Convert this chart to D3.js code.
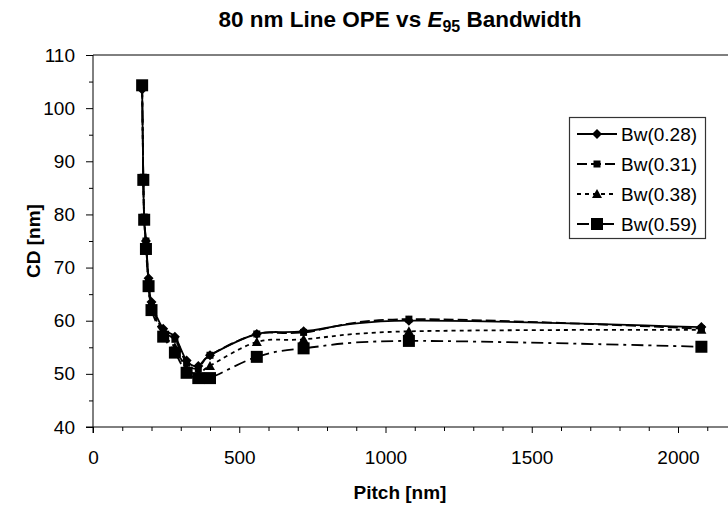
<!DOCTYPE html>
<html><head><meta charset="utf-8">
<script src="https://cdn.jsdelivr.net/npm/d3@7"></script>
<style>body{margin:0;background:#fff}svg{display:block;font-family:"Liberation Sans",Arial,sans-serif}</style>
</head><body><svg id="c" width="728" height="507"></svg>
<script>
const pitch = [168, 172, 175, 181, 190, 200, 240, 280, 320, 360, 400, 560, 720, 1080, 2080];
const bw028 = [103.5, 86.5, 79, 75, 68, 63.5, 58.5, 57, 52.5, 51.5, 53.5, 57.5, 58, 60, 58.8];
const bw031 = [104, 87, 79.5, 75, 67.5, 63, 58, 56.5, 52, 51, 53.5, 57.5, 57.8, 60.3, 58.5];
const bw038 = [104, 87, 79, 74.5, 67, 62.5, 57.5, 55, 51, 50, 51.5, 56, 56.5, 58, 58.3];
const bw059 = [104.3, 86.5, 79, 73.5, 66.5, 62, 57, 54, 50.2, 49.2, 49.2, 53.2, 54.8, 56.2, 55.1];
const seriesNames = ["Bw(0.28)", "Bw(0.31)", "Bw(0.38)", "Bw(0.59)"];
const xTicks = [0, 500, 1000, 1500, 2000];
const yTicks = [40, 50, 60, 70, 80, 90, 100, 110];

const series = [
  {name: seriesNames[0], vals: bw028, dash: null, marker: "diamond"},
  {name: seriesNames[1], vals: bw031, dash: "10,4", marker: "square"},
  {name: seriesNames[2], vals: bw038, dash: "4,4", marker: "triangle"},
  {name: seriesNames[3], vals: bw059, dash: "12,5,3,5", marker: "bigsquare"}
];

const svg = d3.select("#c");
const L = 93, T = 55, B = 427;
const x = d3.scaleLinear().domain([0, 2200]).range([L, L + 2200 * (585 / 2000)]);
const y = d3.scaleLinear().domain([40, 110]).range([B, T]);

svg.append("line").attr("x1", L).attr("x2", x(2200)).attr("y1", T).attr("y2", T).attr("stroke", "#000").attr("stroke-width", 1);

const yAx = svg.append("g").attr("transform", `translate(${L},0)`)
  .call(d3.axisLeft(y).tickValues(yTicks).tickSize(7).tickPadding(11).tickFormat(d3.format("d")));
yAx.select(".domain").attr("d", `M0,${T}V${B + 6}`);
yAx.selectAll("text").attr("font-size", 19).attr("fill", "#000").attr("font-family", "Liberation Sans, Arial, sans-serif");
svg.append("g").attr("transform", `translate(${L},0)`)
  .call(d3.axisLeft(y).tickValues(d3.range(45, 110, 10)).tickSize(4).tickFormat(""))
  .select(".domain").remove();

const xAx = svg.append("g").attr("transform", `translate(0,${B})`)
  .call(d3.axisBottom(x).tickValues(xTicks).tickSize(6).tickPadding(18).tickFormat(d3.format("d")));
xAx.select(".domain").attr("d", `M${L - 7},0H${x(2200)}`);
xAx.selectAll("text").attr("font-size", 19).attr("fill", "#000").attr("font-family", "Liberation Sans, Arial, sans-serif");
svg.append("g").attr("transform", `translate(0,${B})`)
  .call(d3.axisBottom(x).tickValues(d3.range(100, 2200, 100).filter(v => v % 500 !== 0)).tickSize(4).tickFormat(""))
  .select(".domain").remove();

const line = d3.line().x((d, i) => x(pitch[i])).y(d => y(d)).curve(d3.curveCardinal.tension(0));
series.forEach(s => {
  svg.append("path").attr("d", line(s.vals)).attr("fill", "none").attr("stroke", "#000")
    .attr("stroke-width", 1.8).attr("stroke-dasharray", s.dash);
});

function drawMarker(g, type, cx, cy) {
  if (type === "diamond") {
    g.append("path").attr("d", `M${cx},${cy - 5}L${cx + 5},${cy}L${cx},${cy + 5}L${cx - 5},${cy}Z`).attr("fill", "#000");
  } else if (type === "square") {
    g.append("rect").attr("x", cx - 3.5).attr("y", cy - 3.5).attr("width", 7).attr("height", 7).attr("fill", "#000");
  } else if (type === "triangle") {
    g.append("path").attr("d", `M${cx},${cy - 5}L${cx + 5},${cy + 4}L${cx - 5},${cy + 4}Z`).attr("fill", "#000");
  } else {
    g.append("rect").attr("x", cx - 6).attr("y", cy - 6).attr("width", 12).attr("height", 12).attr("fill", "#000");
  }
}
series.forEach(s => {
  const g = svg.append("g");
  s.vals.forEach((v, i) => drawMarker(g, s.marker, x(pitch[i]), y(v)));
});

const lg = svg.append("g");
lg.append("rect").attr("x", 569.5).attr("y", 117.5).attr("width", 136).attr("height", 121)
  .attr("fill", "#fff").attr("stroke", "#333").attr("stroke-width", 1.2);
series.forEach((s, i) => {
  const yy = 134 + i * 30;
  lg.append("line").attr("x1", 577).attr("x2", 617).attr("y1", yy).attr("y2", yy)
    .attr("stroke", "#000").attr("stroke-width", 1.8).attr("stroke-dasharray", s.dash);
  drawMarker(lg, s.marker, 597, yy);
  lg.append("text").attr("x", 621).attr("y", yy + 7).attr("font-size", 19).text(s.name);
});

const title = svg.append("text").attr("x", 400).attr("y", 27).attr("text-anchor", "middle")
  .attr("font-size", 22.5).attr("font-weight", "bold");
title.append("tspan").text("80 nm Line OPE vs ");
title.append("tspan").attr("font-style", "italic").text("E");
title.append("tspan").attr("font-size", 16).attr("dy", 5).text("95");
title.append("tspan").attr("dy", -5).text(" Bandwidth");

svg.append("text").attr("x", 400).attr("y", 499).attr("text-anchor", "middle")
  .attr("font-size", 19).attr("font-weight", "bold").text("Pitch [nm]");
svg.append("text").attr("transform", "translate(40,241) rotate(-90)").attr("text-anchor", "middle")
  .attr("font-size", 19).attr("font-weight", "bold").text("CD [nm]");
</script></body></html>
